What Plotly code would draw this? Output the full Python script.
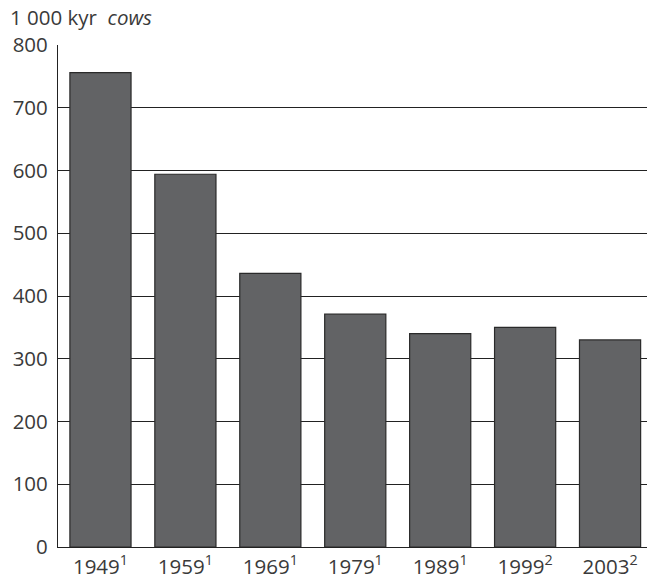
import plotly.graph_objects as go

categories = ["1949", "1959", "1969", "1979", "1989", "1999", "2003"]
footnotes = ["1", "1", "1", "1", "1", "2", "2"]
values = [756, 594, 436, 371, 340, 350, 330]
y_ticks = [0, 100, 200, 300, 400, 500, 600, 700, 800]

labels = [f"{c}<sup>{f}</sup>" for c, f in zip(categories, footnotes)]
xpos = list(range(len(categories)))

fig = go.Figure(go.Bar(
    x=xpos, y=values,
    marker=dict(color="#626365", line=dict(color="#2a2a2a", width=1.2)),
    width=0.72,
))

font = "Open Sans, Noto Sans, sans-serif"
fs = 20.5
txt = "#3a3a3a"
fig.update_layout(
    width=647, height=578,
    margin=dict(l=58, r=0, t=45, b=31),
    plot_bgcolor="white", paper_bgcolor="white",
    showlegend=False,
    font=dict(family=font, size=fs, color=txt),
    xaxis=dict(
        range=[-0.5, 6.435], tickmode="array", tickvals=xpos, ticktext=labels,
        showgrid=False, showline=True, linecolor="#222222", linewidth=1.2,
        ticks="", zeroline=False, automargin=False, ticklabelstandoff=1,
        tickfont=dict(size=fs, color=txt),
    ),
    yaxis=dict(
        range=[0, 800], tickmode="array", tickvals=y_ticks,
        showgrid=True, gridcolor="#222222", gridwidth=1.2,
        showline=True, linecolor="#222222", linewidth=1.2,
        ticks="", zeroline=False, ticklabelstandoff=5, automargin=False,
        tickfont=dict(size=fs, color=txt),
    ),
    annotations=[dict(
        text="1 000 kyr  <i>cows</i>", xref="paper", yref="paper",
        x=-50/589, y=1, xanchor="left", yanchor="middle", yshift=28,
        showarrow=False, font=dict(size=fs, color=txt),
    )],
)

fig.write_html("out.html", post_script="document.body.style.margin='0';",
               config={"displayModeBar": False})
